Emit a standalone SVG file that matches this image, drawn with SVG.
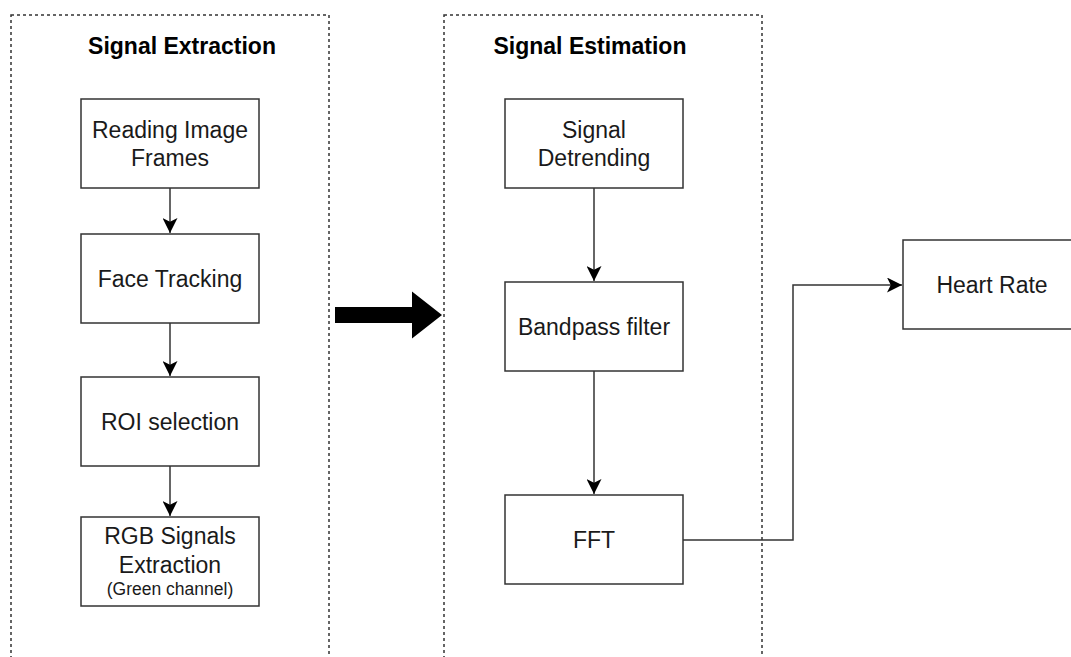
<svg xmlns="http://www.w3.org/2000/svg" width="1071" height="657" viewBox="0 0 1071 657">
<style>
.cont{fill:none;stroke:#333;stroke-width:1.5;stroke-dasharray:3 3}
.box{fill:#fff;stroke:#333;stroke-width:1.5}
.t{font-family:"Liberation Sans",Arial,sans-serif;font-size:23px;fill:#1a1a1a;text-anchor:middle}
.s{font-size:17.5px}
.h{font-family:"Liberation Sans",Arial,sans-serif;font-size:23px;font-weight:bold;fill:#000;text-anchor:middle}
.c{fill:none;stroke:#333;stroke-width:1.5}
</style>
<defs>
<marker id="ah" viewBox="0 0 10 10" refX="10" refY="5" markerWidth="10" markerHeight="10" orient="auto" markerUnits="strokeWidth">
<path d="M0,0 L10,5 L0,10 L2.5,5 Z" fill="#000"/>
</marker>
</defs>
<rect width="1071" height="657" fill="#fff"/>
<g id="container-extraction">
<rect class="cont" x="11" y="15" width="318" height="700"/>
<text class="h" x="182" y="54">Signal Extraction</text>
</g>
<g id="container-estimation">
<rect class="cont" x="444" y="15" width="318" height="700"/>
<text class="h" x="590" y="54">Signal Estimation</text>
</g>
<g id="connectors">
<path class="c" d="M170,188 V233" marker-end="url(#ah)"/>
<path class="c" d="M170,323 V376" marker-end="url(#ah)"/>
<path class="c" d="M170,466 V516" marker-end="url(#ah)"/>
<path class="c" d="M594,188 V281" marker-end="url(#ah)"/>
<path class="c" d="M594,371 V494" marker-end="url(#ah)"/>
<path class="c" d="M683,540 H793 V285 H902" marker-end="url(#ah)"/>
<path id="big-arrow" d="M335,307 H412 V291.5 L442,315 L412,338.5 V323 H335 Z" fill="#000"/>
</g>
<g id="node-reading">
<rect class="box" x="81" y="99" width="178" height="89"/>
<text class="t" x="170" y="138">Reading Image</text>
<text class="t" x="170" y="166">Frames</text>
</g>
<g id="node-face">
<rect class="box" x="81" y="234" width="178" height="89"/>
<text class="t" x="170" y="287">Face Tracking</text>
</g>
<g id="node-roi">
<rect class="box" x="81" y="377" width="178" height="89"/>
<text class="t" x="170" y="430">ROI selection</text>
</g>
<g id="node-rgb">
<rect class="box" x="81" y="517" width="178" height="89"/>
<text class="t" x="170" y="544">RGB Signals</text>
<text class="t" x="170" y="573">Extraction</text>
<text class="t s" x="170" y="595">(Green channel)</text>
</g>
<g id="node-detrending">
<rect class="box" x="505" y="99" width="178" height="89"/>
<text class="t" x="594" y="138">Signal</text>
<text class="t" x="594" y="166">Detrending</text>
</g>
<g id="node-bandpass">
<rect class="box" x="505" y="282" width="178" height="89"/>
<text class="t" x="594" y="335">Bandpass filter</text>
</g>
<g id="node-fft">
<rect class="box" x="505" y="495" width="178" height="89"/>
<text class="t" x="594" y="548">FFT</text>
</g>
<g id="node-heartrate">
<rect class="box" x="903" y="240" width="190" height="89"/>
<text class="t" x="992" y="293">Heart Rate</text>
</g>
</svg>
